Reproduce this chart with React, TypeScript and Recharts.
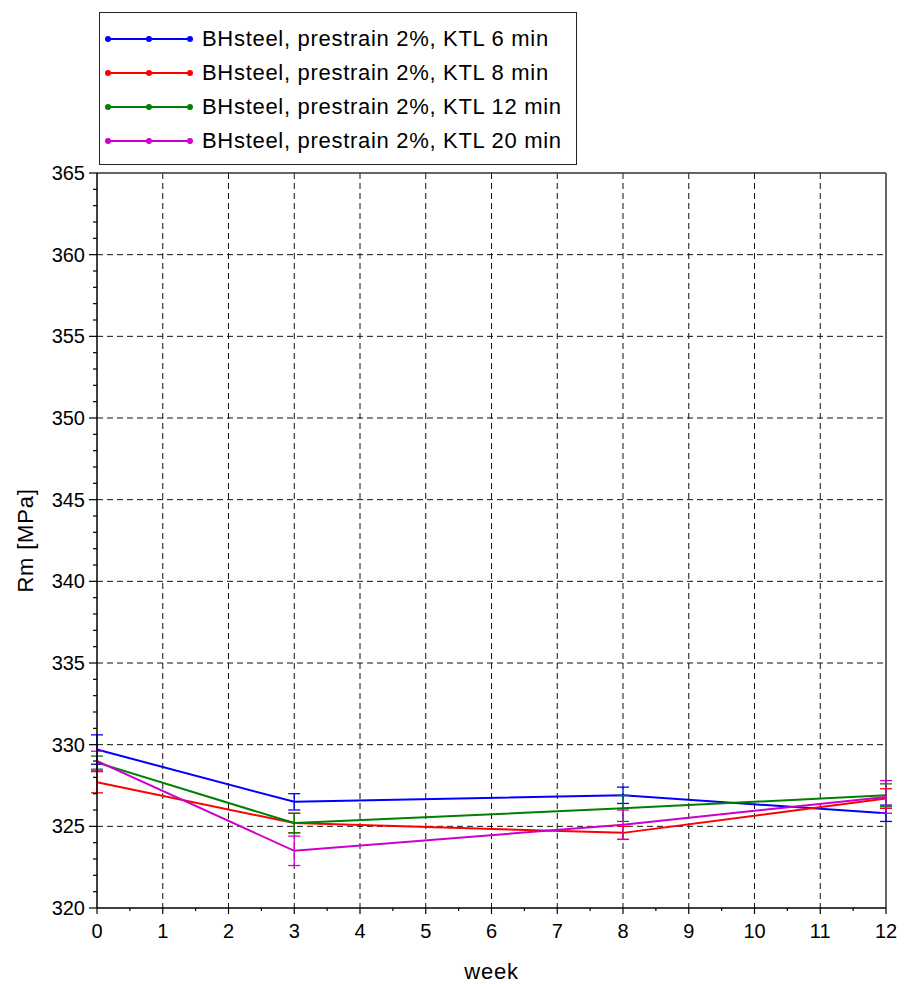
import {
  LineChart, Line, XAxis, YAxis, CartesianGrid, Legend, ErrorBar, ReferenceLine,
} from 'recharts';

const FONT = '"Liberation Sans", Arial, sans-serif';

const WEEKS = [0, 3, 8, 12];

const RM_6 = [329.7, 326.5, 326.9, 325.8];
const ERR_6 = [0.9, 0.5, 0.5, 0.5];
const RM_8 = [327.7, 325.2, 324.6, 326.7];
const ERR_8 = [0.65, 0.6, 0.4, 0.6];
const RM_12 = [328.9, 325.2, 326.1, 326.9];
const ERR_12 = [0.4, 0.6, 0.8, 0.7];
const RM_20 = [329.0, 323.5, 325.1, 326.8];
const ERR_20 = [0.6, 0.9, 0.9, 1.0];

const X_TICKS = [0, 0.5, 1, 1.5, 2, 2.5, 3, 3.5, 4, 4.5, 5, 5.5, 6, 6.5, 7, 7.5, 8, 8.5, 9, 9.5, 10, 10.5, 11, 11.5, 12];
const X_GRID = [1, 2, 3, 4, 5, 6, 7, 8, 9, 10, 11];
const Y_TICKS = [
  320, 321, 322, 323, 324, 325, 326, 327, 328, 329, 330, 331, 332, 333, 334, 335,
  336, 337, 338, 339, 340, 341, 342, 343, 344, 345, 346, 347, 348, 349, 350,
  351, 352, 353, 354, 355, 356, 357, 358, 359, 360, 361, 362, 363, 364, 365,
];
const Y_GRID = [325, 330, 335, 340, 345, 350, 355, 360];

const SERIES = [
  { key: 'kt6', err: 'e6', name: 'BHsteel, prestrain 2%, KTL 6 min', color: '#0000ff', values: RM_6, errs: ERR_6 },
  { key: 'kt8', err: 'e8', name: 'BHsteel, prestrain 2%, KTL 8 min', color: '#ff0000', values: RM_8, errs: ERR_8 },
  { key: 'kt12', err: 'e12', name: 'BHsteel, prestrain 2%, KTL 12 min', color: '#008000', values: RM_12, errs: ERR_12 },
  { key: 'kt20', err: 'e20', name: 'BHsteel, prestrain 2%, KTL 20 min', color: '#cc00cc', values: RM_20, errs: ERR_20 },
];

const data = WEEKS.map((week, i) => {
  const row: Record<string, number> = { week };
  SERIES.forEach(s => {
    row[s.key] = s.values[i];
    row[s.err] = s.errs[i];
  });
  return row;
});

function XTick(props: any) {
  const { x, y, payload } = props;
  const v = payload.value;
  const major = Number.isInteger(v);
  return (
    <g>
      <line x1={x} x2={x} y1={y} y2={y + (major ? 6 : 3)} stroke="#000" strokeWidth={1.2} />
      {major && (
        <text x={x} y={y + 30} textAnchor="middle" fontSize={20} fontFamily={FONT} fill="#000">
          {v}
        </text>
      )}
    </g>
  );
}

function YTick(props: any) {
  const { x, y, payload } = props;
  const v = payload.value;
  const major = v % 5 === 0;
  return (
    <g>
      <line x1={x - (major ? 8 : 4)} x2={x} y1={y} y2={y} stroke="#000" strokeWidth={1.2} />
      {major && (
        <text x={x - 12} y={y + 7} textAnchor="end" fontSize={20} fontFamily={FONT} fill="#000">
          {v}
        </text>
      )}
    </g>
  );
}

function LegendBox() {
  return (
    <div
      style={{
        width: 478,
        height: 153,
        border: '1px solid #222',
        background: '#fff',
        boxSizing: 'border-box',
        position: 'relative',
      }}
    >
      {SERIES.map((s, i) => (
        <div
          key={s.key}
          style={{ position: 'absolute', left: 0, top: 9 + i * 34, height: 34, display: 'flex', alignItems: 'center' }}
        >
          <svg width={100} height={20} style={{ marginLeft: 2 }}>
            <line x1={6} x2={88} y1={10} y2={10} stroke={s.color} strokeWidth={2} />
            <circle cx={6} cy={10} r={3} fill={s.color} />
            <circle cx={47} cy={10} r={3} fill={s.color} />
            <circle cx={88} cy={10} r={3} fill={s.color} />
          </svg>
          <span style={{ fontFamily: FONT, fontSize: 22, letterSpacing: 0.7, color: '#000', whiteSpace: 'nowrap' }}>
            {s.name}
          </span>
        </div>
      ))}
    </div>
  );
}

export default function App() {
  return (
    <div style={{ position: 'absolute', left: 0, top: 0, width: 904, height: 984, background: '#fff' }}>
      <LineChart width={904} height={984} data={data} margin={{ top: 173, right: 18, left: 0, bottom: 0 }}>
        <CartesianGrid
          stroke="#111"
          strokeDasharray="6 4"
          horizontalValues={Y_GRID}
          verticalValues={X_GRID}
        />
        <XAxis
          dataKey="week"
          type="number"
          domain={[0, 12]}
          ticks={X_TICKS}
          interval={0}
          tickLine={false}
          tickSize={0}
          tickMargin={0}
          height={76}
          tick={<XTick />}
          axisLine={{ stroke: '#000', strokeWidth: 1.5 }}
          label={(p: any) => {
            const vb = p.viewBox;
            return (
              <text x={vb.x + vb.width / 2} y={vb.y + 71} textAnchor="middle" fontSize={22} letterSpacing={0.8} fontFamily={FONT} fill="#000">
                week
              </text>
            );
          }}
        />
        <YAxis
          type="number"
          domain={[320, 365]}
          ticks={Y_TICKS}
          interval={0}
          tickLine={false}
          tickSize={0}
          tickMargin={0}
          width={97}
          tick={<YTick />}
          axisLine={{ stroke: '#000', strokeWidth: 1.5 }}
          label={(p: any) => {
            const vb = p.viewBox;
            const cx = vb.x + 25;
            const cy = vb.y + vb.height / 2;
            return (
              <text x={cx} y={cy} transform={`rotate(-90 ${cx} ${cy})`} textAnchor="middle" dominantBaseline="central" fontSize={22} letterSpacing={0.8} fontFamily={FONT} fill="#000">
                Rm [MPa]
              </text>
            );
          }}
        />
        <ReferenceLine y={365} stroke="#333" strokeWidth={1.5} />
        <ReferenceLine x={12} stroke="#666" strokeWidth={2} />
        {SERIES.map(s => (
          <Line
            key={s.key}
            type="linear"
            dataKey={s.key}
            name={s.name}
            stroke={s.color}
            strokeWidth={2}
            dot={false}
            activeDot={false}
            isAnimationActive={false}
          >
            <ErrorBar dataKey={s.err} direction="y" width={6} stroke={s.color} strokeWidth={1.3} isAnimationActive={false} />
          </Line>
        ))}
        <Legend
          layout="vertical"
          align="center"
          verticalAlign="middle"
          content={() => <LegendBox />}
          wrapperStyle={{ left: 99, top: 12, width: 478, height: 153 }}
        />
      </LineChart>
    </div>
  );
}
